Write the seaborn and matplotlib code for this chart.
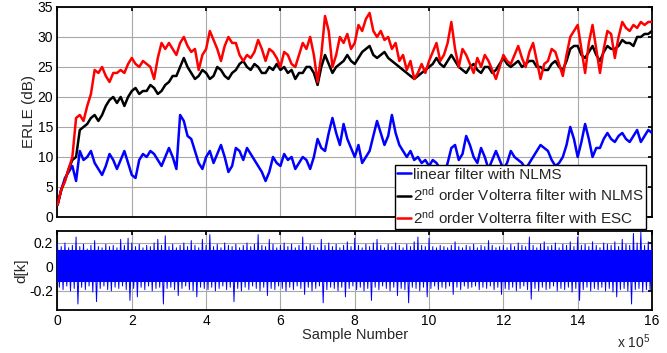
import numpy as np
import pandas as pd
import matplotlib
matplotlib.use("Agg")
import matplotlib.pyplot as plt
import seaborn as sns

# ERLE curves, one value every 0.1 x 10^5 samples
sample_pos = np.round(np.arange(0, 16.01, 0.1), 1)

erle_linear = [2, 4.5, 6.5, 7.5, 8.5, 6, 11, 9.5, 10, 11,
               9, 8, 7, 8.5, 10.5, 9.5, 8, 9.5, 11, 9,
               7, 6.5, 9.5, 10.5, 10, 11, 10.5, 9.5, 8.5, 10,
               11.5, 10, 8, 17, 16, 13.5, 13, 11, 9, 8,
               10, 11, 9, 10.5, 12, 10, 7.5, 8.5, 11.5, 11,
               9.5, 11.5, 10.5, 9.5, 8.5, 7.5, 6, 7.5, 10, 9,
               8.5, 10.5, 9.5, 10, 8, 9, 10, 9.5, 8, 10,
               13, 11.5, 11, 14, 16.5, 14, 12, 15.5, 13, 11.5,
               10, 12, 9, 10, 11, 13.5, 16, 14, 12, 13.5,
               17, 14, 12, 11, 10, 11, 9.5, 10, 9, 9.5,
               8.5, 9.5, 9, 8, 7, 9, 11.5, 12, 9.5, 10.5,
               13.5, 12, 10, 9, 11.5, 10, 8, 9.5, 11, 9.5,
               8, 9, 11, 10, 9.5, 9, 8, 9, 10, 11,
               12, 11.5, 11, 9.5, 8.5, 9, 10, 12, 15, 13,
               10, 12.5, 15.5, 13, 10, 11.5, 11.5, 13, 14, 13,
               12.5, 13.5, 14, 13, 12.5, 13.5, 14.5, 12.5, 13.5, 14.5,
               14]

erle_volterra_nlms = [2, 4.5, 6, 8, 9.5, 10, 14.5, 15, 15.5, 16.5,
                      17, 16, 17, 18.5, 19.5, 20, 19, 20, 18.5, 20,
                      21, 21.5, 20.5, 21, 21, 22, 21.5, 20.5, 21, 22,
                      22.5, 23.5, 23.5, 25, 26.5, 25, 24, 23, 23.5, 24.5,
                      24, 23, 23.5, 25, 24.5, 23.5, 23, 24, 24.5, 25.5,
                      26, 25, 24.5, 25.5, 25, 24, 24, 25, 24.5, 25.5,
                      24.5, 25, 24, 24.5, 23, 24, 24, 25, 25, 24,
                      22, 25, 27, 25.5, 24, 25, 25.5, 26, 27, 26,
                      25.5, 26.5, 27.5, 28, 28.5, 27, 26.5, 27, 27.5, 26.5,
                      26, 25.5, 25, 24.5, 24, 23.5, 23, 23.5, 24, 24.5,
                      25, 25.5, 26.5, 25.5, 25, 26, 27, 26, 25, 24.5,
                      24, 25, 25.5, 24.5, 24, 25, 25, 24, 24.5, 25.5,
                      26.5, 25.5, 25, 25.5, 26, 25, 25.5, 26, 26, 25,
                      25, 24.5, 24.5, 25.5, 26, 25, 24.5, 26, 28, 28.5,
                      28.5, 27, 26.5, 27.5, 28.5, 27, 26, 27.5, 28.5, 28,
                      28, 28.5, 29.5, 29, 29, 28.5, 30, 30, 30.5, 30.5,
                      31]

erle_volterra_esc = [2, 4.5, 6, 8, 10, 16.5, 17, 16, 18.5, 20.5,
                     24.5, 24, 25, 23.5, 22.5, 24, 24, 24.5, 24, 25.5,
                     26.5, 25.5, 25, 26, 25.5, 25, 23, 26.5, 29, 28,
                     29, 28, 27, 29, 30, 28.5, 27.5, 28, 24.5, 27,
                     28, 31, 29.5, 28, 26, 28.5, 30, 29, 29, 27,
                     26, 27, 26.5, 27.5, 29.5, 28, 26, 28, 27.5, 26.5,
                     25, 27.5, 27, 25.5, 25, 27, 29, 28, 30, 27,
                     22.5, 27, 33.5, 31, 25, 27, 30, 29, 30.5, 28,
                     29, 32, 31, 33, 34, 31, 30, 31, 29.5, 30,
                     28, 29, 26, 27, 24.5, 26, 23, 24, 25.5, 24,
                     26, 27.5, 29, 26, 27, 29, 32.5, 28, 25, 28,
                     27, 25.5, 24, 26.5, 25, 27, 26, 24.5, 23, 25,
                     27, 26, 25.5, 27, 28.5, 26.5, 25, 27.5, 29, 26,
                     23, 25.5, 26, 28, 27.5, 25.5, 23.5, 27, 30, 31,
                     32, 28, 24, 29, 32, 28, 24, 28, 31, 30.5,
                     26.5, 30, 32.5, 31.5, 31, 32, 31.5, 32.5, 32, 32.5,
                     32.5]

labels = ["linear filter with NLMS",
          "2$^{nd}$ order Volterra filter with NLMS",
          "2$^{nd}$ order Volterra filter with ESC"]
colors = ["#0000ff", "#000000", "#ff0000"]

# d[k]: upper / lower extent of the signal in every 0.1 x 10^5 bin
d_bin_pos = np.round(np.arange(0, 16.01, 0.1), 1)
d_upper = [0.19, 0.17, 0.20, 0.16, 0.18, 0.25, 0.17, 0.19, 0.15, 0.18, 0.22, 0.17, 0.16, 0.19, 0.17, 0.18, 0.16, 0.23, 0.18, 0.24,
           0.20, 0.17, 0.19, 0.16, 0.18, 0.17, 0.20, 0.23, 0.18, 0.26, 0.17, 0.19, 0.16, 0.18, 0.20, 0.17, 0.22, 0.18, 0.16, 0.23,
           0.18, 0.27, 0.17, 0.19, 0.16, 0.20, 0.18, 0.17, 0.19, 0.16, 0.18, 0.20, 0.17, 0.19, 0.27, 0.18, 0.17, 0.23, 0.19, 0.16,
           0.18, 0.20, 0.17, 0.19, 0.16, 0.18, 0.25, 0.17, 0.19, 0.18, 0.16, 0.23, 0.18, 0.20, 0.17, 0.19, 0.16, 0.18, 0.21, 0.17,
           0.24, 0.18, 0.16, 0.19, 0.17, 0.20, 0.23, 0.18, 0.16, 0.19, 0.17, 0.20, 0.18, 0.16, 0.19, 0.17, 0.21, 0.25, 0.18, 0.17,
           0.24, 0.17, 0.16, 0.18, 0.17, 0.16, 0.18, 0.21, 0.17, 0.16, 0.18, 0.17, 0.19, 0.16, 0.18, 0.17, 0.22, 0.18, 0.16, 0.17,
           0.18, 0.16, 0.19, 0.17, 0.20, 0.18, 0.17, 0.25, 0.18, 0.16, 0.19, 0.21, 0.17, 0.18, 0.20, 0.16, 0.19, 0.18, 0.21, 0.17,
           0.25, 0.18, 0.19, 0.17, 0.21, 0.18, 0.16, 0.20, 0.19, 0.18, 0.21, 0.17, 0.23, 0.19, 0.18, 0.28, 0.20, 0.29, 0.18, 0.21,
           0.19]
d_lower = [-0.17, -0.19, -0.16, -0.20, -0.18, -0.31, -0.17, -0.19, -0.16, -0.21, -0.29, -0.18, -0.16, -0.19, -0.20, -0.17, -0.18, -0.16, -0.19, -0.28,
           -0.18, -0.25, -0.17, -0.19, -0.16, -0.20, -0.18, -0.17, -0.31, -0.18, -0.17, -0.19, -0.24, -0.18, -0.16, -0.19, -0.20, -0.25, -0.17, -0.18,
           -0.19, -0.17, -0.20, -0.18, -0.16, -0.19, -0.17, -0.29, -0.18, -0.20, -0.17, -0.19, -0.16, -0.18, -0.20, -0.17, -0.24, -0.18, -0.19, -0.16,
           -0.18, -0.20, -0.17, -0.19, -0.16, -0.18, -0.23, -0.17, -0.20, -0.18, -0.16, -0.30, -0.19, -0.17, -0.18, -0.20, -0.17, -0.25, -0.18, -0.16,
           -0.19, -0.17, -0.20, -0.18, -0.28, -0.17, -0.19, -0.16, -0.18, -0.20, -0.17, -0.24, -0.18, -0.19, -0.30, -0.17, -0.18, -0.20, -0.17, -0.25,
           -0.18, -0.16, -0.19, -0.17, -0.18, -0.16, -0.23, -0.17, -0.19, -0.16, -0.18, -0.17, -0.16, -0.19, -0.17, -0.18, -0.16, -0.19, -0.17, -0.23,
           -0.18, -0.19, -0.17, -0.20, -0.18, -0.16, -0.19, -0.27, -0.18, -0.20, -0.17, -0.19, -0.18, -0.16, -0.20, -0.18, -0.19, -0.17, -0.21, -0.18,
           -0.28, -0.19, -0.17, -0.20, -0.18, -0.19, -0.17, -0.20, -0.18, -0.21, -0.25, -0.19, -0.18, -0.20, -0.31, -0.19, -0.18, -0.21, -0.19, -0.20,
           -0.19]
# solid core of the signal band
d_core_top = 0.14
d_core_bottom = -0.13

sns.set_theme(style="white")
plt.rcParams['font.family'] = ['Liberation Sans', 'DejaVu Sans']
plt.rcParams['mathtext.default'] = 'regular'
plt.rcParams['font.size'] = 10

fig = plt.figure(figsize=(6.67, 3.53), dpi=100)
fig.set_facecolor('white')
ax1 = fig.add_axes([0.0862, 0.3853, 0.8913, 0.595])
ax2 = fig.add_axes([0.0862, 0.1218, 0.8913, 0.2238])

erle = pd.DataFrame({"x": np.tile(sample_pos, 3),
                     "erle": erle_linear + erle_volterra_nlms + erle_volterra_esc,
                     "filter": np.repeat(labels, len(sample_pos))})
sns.lineplot(data=erle, x="x", y="erle", hue="filter", palette=dict(zip(labels, colors)),
             estimator=None, linewidth=1.8, ax=ax1, zorder=3)

# zigzag between the bin extremes so it reads as a dense signal
zx = np.column_stack([d_bin_pos, d_bin_pos + 0.05]).ravel()
zy = np.column_stack([d_upper, d_lower]).ravel()
keep = zx <= 16
sig = pd.DataFrame({"x": zx[keep], "d": zy[keep]})
ax2.fill_between([0, 16], d_core_bottom, d_core_top, color="#0000ff", linewidth=0, zorder=3)
sns.lineplot(data=sig, x="x", y="d", color="#0000ff", linewidth=0.7, estimator=None,
             sort=False, ax=ax2, zorder=3)

for ax in (ax1, ax2):
    ax.set_xlim(0, 16)
    ax.set_xticks(range(0, 17, 2))
    ax.grid(True, color='#a8a8a8', linewidth=0.8)
    ax.tick_params(direction='in', length=3, top=True, right=True, labelsize=10,
                   colors='black', pad=3)
    for s in ax.spines.values():
        s.set_color('black')
        s.set_linewidth(1.3)

ax1.set_ylim(0, 35)
ax1.set_yticks(range(0, 36, 5))
ax1.set_xticklabels([])
ax1.set_xlabel("")
ax1.set_ylabel("ERLE (dB)", fontsize=11, labelpad=1)

ax2.set_ylim(-0.36, 0.3)
ax2.set_yticks([-0.2, 0, 0.2])
ax2.set_yticklabels(["-0.2", "0", "0.2"])
ax2.set_ylabel("d[k]", fontsize=11, labelpad=1)
ax2.set_xlabel("Sample Number", fontsize=10.5, labelpad=0)

handles, _ = ax1.get_legend_handles_labels()
leg = ax1.legend(handles, labels, loc='lower right', bbox_to_anchor=(0.99, -0.057),
                 borderaxespad=0, fancybox=False, framealpha=1, edgecolor='black',
                 fontsize=11, handlelength=0.9, handletextpad=0.15, labelspacing=0.3,
                 borderpad=0.15)
leg.get_frame().set_linewidth(1.0)
leg.set_zorder(10)

fig.text(0.975, 0.005, "x 10$^{5}$", ha='right', va='bottom', fontsize=10)

fig.savefig("out.png", dpi=100)
